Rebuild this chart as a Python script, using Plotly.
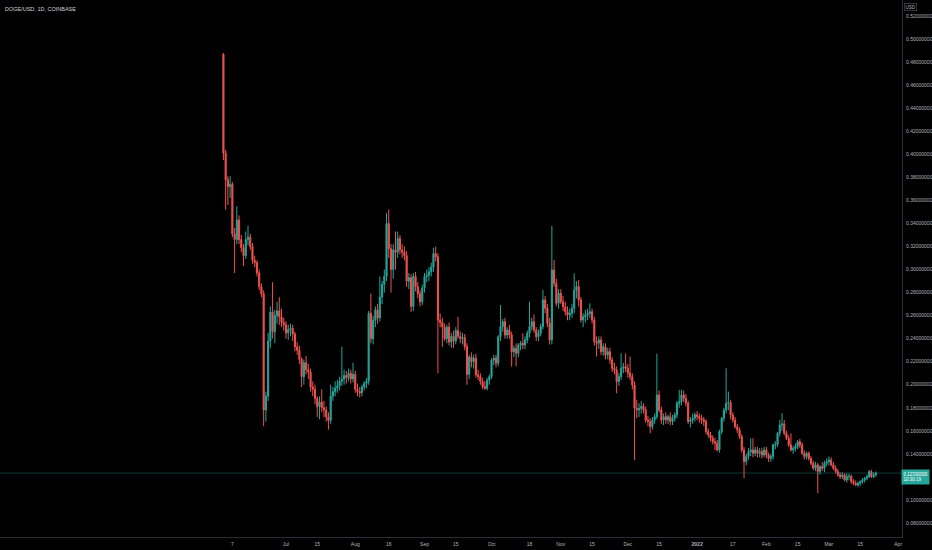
import pandas as pd
import plotly.graph_objects as go

# DOGE/USD daily candles, Coinbase, from listing day (2021-06-03) to 2022-03-22
first_day = "2021-06-03"

open_ = [
    0.487, 0.401, 0.378, 0.372, 0.374, 0.331, 0.326, 0.343, 0.326, 0.319,
    0.312, 0.326, 0.328, 0.320, 0.308, 0.306, 0.297, 0.285, 0.279, 0.178,
    0.190, 0.238, 0.263, 0.246, 0.260, 0.264, 0.259, 0.254, 0.252, 0.245,
    0.248, 0.249, 0.244, 0.233, 0.230, 0.222, 0.207, 0.219, 0.213, 0.211,
    0.198, 0.196, 0.188, 0.181, 0.185, 0.180, 0.178, 0.172, 0.169, 0.190,
    0.194, 0.197, 0.199, 0.203, 0.205, 0.208, 0.206, 0.210, 0.205, 0.209,
    0.196, 0.194, 0.193, 0.198, 0.201, 0.203, 0.262, 0.240, 0.256, 0.265,
    0.258, 0.276, 0.287, 0.294, 0.340, 0.318, 0.300, 0.317, 0.315, 0.327,
    0.317, 0.315, 0.312, 0.290, 0.293, 0.268, 0.294, 0.285, 0.279, 0.272,
    0.284, 0.294, 0.295, 0.298, 0.302, 0.314, 0.311, 0.256, 0.254, 0.250,
    0.240, 0.250, 0.237, 0.242, 0.238, 0.247, 0.242, 0.240, 0.241, 0.233,
    0.209, 0.224, 0.220, 0.223, 0.2085, 0.207, 0.2027, 0.1983, 0.197, 0.204,
    0.207, 0.2215, 0.223, 0.2186, 0.2417, 0.2504, 0.2547, 0.2432, 0.2475, 0.2432,
    0.2287, 0.2316, 0.2273, 0.2345, 0.236, 0.2345, 0.2389, 0.2447, 0.2504, 0.2547,
    0.2475, 0.2417, 0.2447, 0.2504, 0.2736, 0.2664, 0.2533, 0.2389, 0.2996, 0.2881,
    0.2707, 0.2794, 0.2721, 0.2678, 0.2634, 0.2606, 0.262, 0.2664, 0.2823, 0.2852,
    0.2736, 0.2562, 0.2591, 0.2606, 0.262, 0.2634, 0.2562, 0.2374, 0.236, 0.2389,
    0.2287, 0.233, 0.2258, 0.2287, 0.2215, 0.2143, 0.2128, 0.2027, 0.207, 0.2143,
    0.2157, 0.2143, 0.210, 0.207, 0.1998, 0.1795, 0.1781, 0.1795, 0.1811, 0.1781,
    0.1694, 0.168, 0.1636, 0.1694, 0.1723, 0.1911, 0.1781, 0.1694, 0.1723, 0.1694,
    0.1723, 0.168, 0.1709, 0.1738, 0.1839, 0.1853, 0.1911, 0.1882, 0.1839, 0.168,
    0.1694, 0.1709, 0.1738, 0.1723, 0.1709, 0.1694, 0.168, 0.1593, 0.1564, 0.1535,
    0.1506, 0.1492, 0.1434, 0.1593, 0.1709, 0.1781, 0.1839, 0.1845, 0.1738, 0.1694,
    0.1636, 0.1607, 0.1549, 0.1434, 0.1332, 0.1376, 0.1419, 0.1434, 0.1405, 0.1434,
    0.1405, 0.1419, 0.139, 0.1434, 0.139, 0.1361, 0.1376, 0.1477, 0.148, 0.1578,
    0.1651, 0.166, 0.1578, 0.1535, 0.1477, 0.1434, 0.1448, 0.1463, 0.1506, 0.1477,
    0.1405, 0.1376, 0.1405, 0.1361, 0.1318, 0.1275, 0.1304, 0.1246, 0.1289, 0.1275,
    0.1318, 0.1332, 0.1347, 0.1304, 0.1275, 0.1246, 0.1217, 0.1202, 0.1217, 0.1173,
    0.1202, 0.1205, 0.1159, 0.1144, 0.113, 0.1144, 0.1159, 0.1173, 0.1188, 0.1202,
    0.1246, 0.1202, 0.1217,
]

high = [
    0.488, 0.404, 0.381, 0.381, 0.376, 0.336, 0.355, 0.347, 0.330, 0.322,
    0.333, 0.338, 0.331, 0.323, 0.312, 0.308, 0.300, 0.288, 0.282, 0.194,
    0.245, 0.268, 0.289, 0.265, 0.272, 0.276, 0.266, 0.258, 0.255, 0.252,
    0.253, 0.252, 0.246, 0.237, 0.234, 0.224, 0.222, 0.225, 0.218, 0.214,
    0.203, 0.200, 0.190, 0.190, 0.196, 0.186, 0.181, 0.176, 0.200, 0.198,
    0.203, 0.204, 0.207, 0.233, 0.213, 0.212, 0.214, 0.213, 0.219, 0.212,
    0.201, 0.198, 0.200, 0.203, 0.206, 0.264, 0.279, 0.260, 0.268, 0.270,
    0.294, 0.290, 0.300, 0.349, 0.352, 0.322, 0.322, 0.333, 0.333, 0.330,
    0.322, 0.320, 0.316, 0.297, 0.296, 0.297, 0.298, 0.289, 0.282, 0.287,
    0.297, 0.300, 0.302, 0.306, 0.319, 0.320, 0.314, 0.262, 0.258, 0.253,
    0.252, 0.254, 0.245, 0.247, 0.250, 0.259, 0.246, 0.245, 0.244, 0.236,
    0.226, 0.228, 0.226, 0.227, 0.213, 0.210, 0.206, 0.203, 0.206, 0.209,
    0.223, 0.226, 0.226, 0.243, 0.2692, 0.257, 0.258, 0.250, 0.252, 0.246,
    0.234, 0.236, 0.236, 0.238, 0.2447, 0.242, 0.247, 0.2721, 0.258, 0.261,
    0.250, 0.248, 0.253, 0.2823, 0.277, 0.270, 0.258, 0.338, 0.3083, 0.292,
    0.283, 0.283, 0.277, 0.272, 0.268, 0.266, 0.270, 0.2967, 0.290, 0.2909,
    0.276, 0.262, 0.265, 0.266, 0.2707, 0.266, 0.259, 0.242, 0.242, 0.242,
    0.236, 0.236, 0.232, 0.232, 0.224, 0.219, 0.216, 0.210, 0.2273, 0.219,
    0.2273, 0.218, 0.2244, 0.210, 0.203, 0.187, 0.184, 0.186, 0.184, 0.181,
    0.173, 0.171, 0.172, 0.175, 0.227, 0.195, 0.181, 0.175, 0.176, 0.174,
    0.176, 0.174, 0.176, 0.186, 0.1955, 0.1955, 0.195, 0.192, 0.186, 0.172,
    0.175, 0.176, 0.177, 0.175, 0.174, 0.172, 0.170, 0.162, 0.159, 0.156,
    0.154, 0.152, 0.161, 0.172, 0.180, 0.2143, 0.194, 0.187, 0.176, 0.172,
    0.166, 0.163, 0.157, 0.146, 0.140, 0.145, 0.1535, 0.1535, 0.146, 0.146,
    0.145, 0.145, 0.146, 0.146, 0.141, 0.140, 0.149, 0.151, 0.159, 0.1694,
    0.1752, 0.1694, 0.160, 0.156, 0.1578, 0.147, 0.149, 0.152, 0.153, 0.150,
    0.143, 0.1419, 0.142, 0.138, 0.134, 0.133, 0.132, 0.130, 0.133, 0.134,
    0.136, 0.1376, 0.137, 0.133, 0.130, 0.127, 0.124, 0.124, 0.123, 0.1231,
    0.123, 0.122, 0.118, 0.117, 0.116, 0.117, 0.119, 0.120, 0.122, 0.126,
    0.126, 0.124, 0.1246,
]

low = [
    0.395, 0.352, 0.356, 0.362, 0.328, 0.297, 0.322, 0.322, 0.315, 0.303,
    0.309, 0.321, 0.317, 0.305, 0.302, 0.294, 0.282, 0.276, 0.164, 0.168,
    0.186, 0.232, 0.240, 0.236, 0.253, 0.252, 0.250, 0.247, 0.240, 0.239,
    0.242, 0.238, 0.229, 0.226, 0.218, 0.198, 0.200, 0.209, 0.205, 0.194,
    0.190, 0.183, 0.172, 0.170, 0.176, 0.172, 0.168, 0.161, 0.166, 0.186,
    0.190, 0.193, 0.195, 0.199, 0.200, 0.201, 0.203, 0.201, 0.202, 0.193,
    0.190, 0.189, 0.190, 0.195, 0.197, 0.200, 0.236, 0.235, 0.250, 0.253,
    0.255, 0.270, 0.280, 0.290, 0.310, 0.280, 0.292, 0.300, 0.310, 0.313,
    0.310, 0.308, 0.285, 0.283, 0.263, 0.264, 0.281, 0.275, 0.268, 0.269,
    0.280, 0.289, 0.290, 0.294, 0.298, 0.307, 0.210, 0.250, 0.233, 0.238,
    0.236, 0.234, 0.232, 0.232, 0.235, 0.240, 0.236, 0.235, 0.230, 0.200,
    0.205, 0.215, 0.214, 0.206, 0.204, 0.200, 0.196, 0.1955, 0.195, 0.200,
    0.205, 0.217, 0.215, 0.216, 0.238, 0.246, 0.240, 0.240, 0.240, 0.2157,
    0.224, 0.216, 0.224, 0.230, 0.231, 0.231, 0.236, 0.241, 0.247, 0.245,
    0.238, 0.238, 0.242, 0.248, 0.262, 0.250, 0.235, 0.235, 0.285, 0.268,
    0.266, 0.270, 0.264, 0.260, 0.256, 0.256, 0.258, 0.262, 0.275, 0.268,
    0.254, 0.250, 0.254, 0.256, 0.258, 0.253, 0.234, 0.2244, 0.231, 0.226,
    0.225, 0.222, 0.222, 0.218, 0.211, 0.209, 0.1926, 0.199, 0.204, 0.210,
    0.211, 0.206, 0.204, 0.196, 0.1347, 0.171, 0.172, 0.175, 0.175, 0.167,
    0.164, 0.1578, 0.161, 0.166, 0.170, 0.176, 0.166, 0.165, 0.166, 0.166,
    0.165, 0.165, 0.168, 0.171, 0.180, 0.182, 0.185, 0.181, 0.166, 0.163,
    0.166, 0.168, 0.169, 0.167, 0.166, 0.164, 0.157, 0.154, 0.151, 0.148,
    0.1434, 0.142, 0.141, 0.157, 0.168, 0.175, 0.178, 0.170, 0.167, 0.162,
    0.158, 0.153, 0.141, 0.1188, 0.130, 0.135, 0.138, 0.137, 0.138, 0.137,
    0.137, 0.136, 0.137, 0.136, 0.133, 0.133, 0.135, 0.144, 0.146, 0.155,
    0.160, 0.156, 0.152, 0.146, 0.142, 0.140, 0.142, 0.144, 0.145, 0.139,
    0.135, 0.135, 0.134, 0.130, 0.126, 0.125, 0.1058, 0.122, 0.125, 0.124,
    0.129, 0.130, 0.129, 0.126, 0.123, 0.120, 0.118, 0.118, 0.116, 0.115,
    0.117, 0.114, 0.113, 0.112, 0.111, 0.112, 0.114, 0.115, 0.117, 0.119,
    0.119, 0.119, 0.120,
]

close = [
    0.401, 0.378, 0.372, 0.374, 0.331, 0.326, 0.343, 0.326, 0.319, 0.312,
    0.326, 0.328, 0.320, 0.308, 0.306, 0.297, 0.285, 0.279, 0.178, 0.190,
    0.238, 0.263, 0.246, 0.260, 0.264, 0.259, 0.254, 0.252, 0.245, 0.248,
    0.249, 0.244, 0.233, 0.230, 0.222, 0.207, 0.219, 0.213, 0.211, 0.198,
    0.196, 0.188, 0.181, 0.185, 0.180, 0.178, 0.172, 0.169, 0.190, 0.194,
    0.197, 0.199, 0.203, 0.205, 0.208, 0.206, 0.210, 0.205, 0.209, 0.196,
    0.194, 0.193, 0.198, 0.201, 0.203, 0.262, 0.240, 0.256, 0.265, 0.258,
    0.276, 0.287, 0.294, 0.340, 0.318, 0.300, 0.317, 0.315, 0.327, 0.317,
    0.315, 0.312, 0.290, 0.293, 0.268, 0.294, 0.285, 0.279, 0.272, 0.284,
    0.294, 0.295, 0.298, 0.302, 0.314, 0.311, 0.256, 0.254, 0.250, 0.240,
    0.250, 0.237, 0.242, 0.238, 0.247, 0.242, 0.240, 0.241, 0.233, 0.209,
    0.224, 0.220, 0.223, 0.2085, 0.207, 0.2027, 0.1983, 0.197, 0.204, 0.207,
    0.2215, 0.223, 0.2186, 0.2417, 0.2504, 0.2547, 0.2432, 0.2475, 0.2432, 0.2287,
    0.2316, 0.2273, 0.2345, 0.236, 0.2345, 0.2389, 0.2447, 0.2504, 0.2547, 0.2475,
    0.2417, 0.2447, 0.2504, 0.2736, 0.2664, 0.2533, 0.2389, 0.2996, 0.2881, 0.2707,
    0.2794, 0.2721, 0.2678, 0.2634, 0.2606, 0.262, 0.2664, 0.2823, 0.2852, 0.2736,
    0.2562, 0.2591, 0.2606, 0.262, 0.2634, 0.2562, 0.2374, 0.236, 0.2389, 0.2287,
    0.233, 0.2258, 0.2287, 0.2215, 0.2143, 0.2128, 0.2027, 0.207, 0.2143, 0.2157,
    0.2143, 0.210, 0.207, 0.1998, 0.1795, 0.1781, 0.1795, 0.1811, 0.1781, 0.1694,
    0.168, 0.1636, 0.1694, 0.1723, 0.1911, 0.1781, 0.1694, 0.1723, 0.1694, 0.1723,
    0.168, 0.1709, 0.1738, 0.1839, 0.1853, 0.1911, 0.1882, 0.1839, 0.168, 0.1694,
    0.1709, 0.1738, 0.1723, 0.1709, 0.1694, 0.168, 0.1593, 0.1564, 0.1535, 0.1506,
    0.1492, 0.1434, 0.1593, 0.1709, 0.1781, 0.1839, 0.1845, 0.1738, 0.1694, 0.1636,
    0.1607, 0.1549, 0.1434, 0.1332, 0.1376, 0.1419, 0.1434, 0.1405, 0.1434, 0.1405,
    0.1419, 0.139, 0.1434, 0.139, 0.1361, 0.1376, 0.1477, 0.148, 0.1578, 0.1651,
    0.166, 0.1578, 0.1535, 0.1477, 0.1434, 0.1448, 0.1463, 0.1506, 0.1477, 0.1405,
    0.1376, 0.1405, 0.1361, 0.1318, 0.1275, 0.1304, 0.1246, 0.1289, 0.1275, 0.1318,
    0.1332, 0.1347, 0.1304, 0.1275, 0.1246, 0.1217, 0.1202, 0.1217, 0.1173, 0.1202,
    0.1205, 0.1159, 0.1144, 0.113, 0.1144, 0.1159, 0.1173, 0.1188, 0.1202, 0.1246,
    0.1202, 0.1217, 0.1233,
]

tick_dates = [
    "2021-06-07", "2021-07-01", "2021-07-15", "2021-08-01", "2021-08-16",
    "2021-09-01", "2021-09-15", "2021-10-01", "2021-10-18", "2021-11-01",
    "2021-11-15", "2021-12-01", "2021-12-15", "2022-01-01", "2022-01-17",
    "2022-02-01", "2022-02-15", "2022-03-01", "2022-03-15", "2022-04-01",
]
tick_labels = [
    "7", "Jul", "15", "Aug", "16", "Sep", "15", "Oct", "18", "Nov",
    "15", "Dec", "15", "<b>2022</b>", "17", "Feb", "15", "Mar", "15", "Apr",
]

# price scale labels (0.12 sits under the last-price badge, so it is not shown)
price_ticks = [
    0.08, 0.10, 0.14, 0.16, 0.18, 0.20, 0.22, 0.24, 0.26, 0.28, 0.30,
    0.32, 0.34, 0.36, 0.38, 0.40, 0.42, 0.44, 0.46, 0.48, 0.50, 0.52,
]

last_price = 0.1233
countdown = "10:30:19"

dates = pd.date_range(first_day, periods=len(close), freq="D")

UP = "#26a69a"
DOWN = "#ef5350"
TEXT = "#b2b5be"
FONT = "Liberation Sans, Arial, sans-serif"

fig = go.Figure(
    go.Candlestick(
        x=dates,
        open=open_,
        high=high,
        low=low,
        close=close,
        increasing=dict(line=dict(color=UP, width=1), fillcolor=UP),
        decreasing=dict(line=dict(color=DOWN, width=1), fillcolor=DOWN),
        whiskerwidth=0,
        showlegend=False,
    )
)

# last price line across the pane
fig.add_shape(
    type="line", xref="paper", x0=0, x1=1, y0=last_price, y1=last_price,
    line=dict(color="rgba(38,166,154,0.35)", width=1),
)

# symbol header
fig.add_annotation(
    text="DOGE/USD, 1D, COINBASE", xref="paper", yref="paper",
    x=0.003, y=1, xanchor="left", yanchor="top", yshift=-4,
    showarrow=False, font=dict(family=FONT, size=5.5, color="#d1d4dc"),
)

# currency badge on the price scale
fig.add_annotation(
    text="USD", xref="paper", yref="paper", x=1.0099, y=1,
    xanchor="center", yanchor="top", yshift=-3, showarrow=False,
    bordercolor="#50535e", borderwidth=0.6, borderpad=1,
    font=dict(family=FONT, size=4.5, color=TEXT),
)

# last price label
fig.add_annotation(
    text=f"{last_price:.8f}<br>{countdown}", xref="paper", yref="y",
    x=1, y=last_price, xanchor="left", yanchor="top", yshift=4, xshift=-1,
    showarrow=False, align="left", bgcolor=UP, borderpad=1.5,
    font=dict(family=FONT, size=4.5, color="#ffffff"),
)

fig.update_layout(
    width=932,
    height=550,
    autosize=False,
    paper_bgcolor="#000000",
    plot_bgcolor="#000000",
    margin=dict(l=0, r=30, t=0, b=13, pad=0),
    font=dict(family=FONT, size=5, color=TEXT),
    xaxis=dict(
        type="date",
        range=["2021-02-23", "2022-04-02 17:00"],
        rangeslider=dict(visible=False),
        tickvals=tick_dates,
        ticktext=tick_labels,
        tickangle=0,
        showgrid=False,
        zeroline=False,
        showline=True,
        linecolor="#2a2e39",
        linewidth=1,
        ticks="",
        ticklabelstandoff=2,
        tickfont=dict(family=FONT, size=5, color=TEXT),
    ),
    yaxis=dict(
        side="right",
        range=[0.0678, 0.534],
        tickvals=price_ticks,
        tickformat=".8f",
        showgrid=False,
        zeroline=False,
        showline=True,
        linecolor="#2a2e39",
        linewidth=1,
        ticks="",
        ticklabelstandoff=2,
        tickfont=dict(family=FONT, size=5, color=TEXT),
    ),
)

# drop the browser's default body margin so the 932x550 figure fills the window
fig.write_html(
    "out.html",
    config={"displayModeBar": False},
    post_script="document.body.style.margin='0';document.body.style.background='#000';",
)
